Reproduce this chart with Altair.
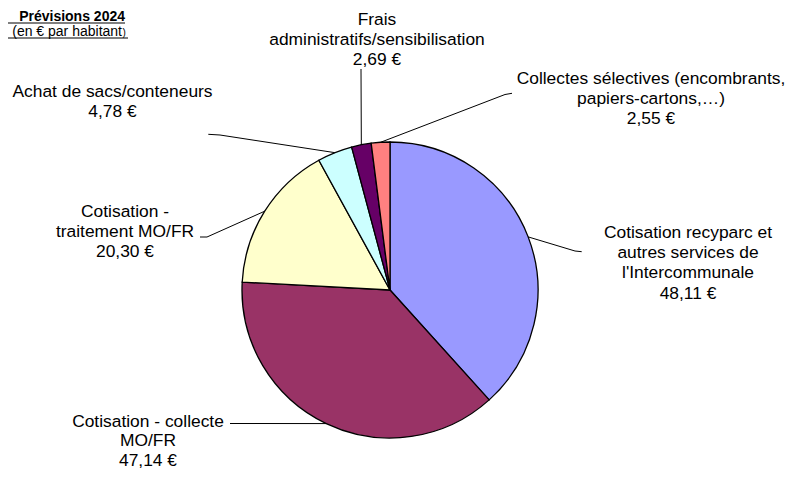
import math
import altair as alt
import pandas as pd

# ---- data ----
categories = [
    "Cotisation recyparc et autres services de l'Intercommunale",
    "Cotisation - collecte MO/FR",
    "Cotisation - traitement MO/FR",
    "Achat de sacs/conteneurs",
    "Frais administratifs/sensibilisation",
    "Collectes sélectives (encombrants, papiers-cartons,…)",
]
values = [48.11, 47.14, 20.30, 4.78, 2.69, 2.55]
label_lines = [
    ["Cotisation recyparc et", "autres services de", "l'Intercommunale"],
    ["Cotisation - collecte", "MO/FR"],
    ["Cotisation -", "traitement MO/FR"],
    ["Achat de sacs/conteneurs"],
    ["Frais", "administratifs/sensibilisation"],
    ["Collectes sélectives (encombrants,", "papiers-cartons,…)"],
]
colors = ["#9999FF", "#993366", "#FFFFCC", "#CCFFFF", "#660066", "#FF8080"]
title_text = "Prévisions 2024"
subtitle_text = "(en € par habitant"

# ---- layout ----
W, H = 779, 465
CX, CY, R = 382, 282, 148
FONT = "Liberation Sans"
FS = 17.4
# label block: center x, first line y, line spacing
label_pos = [(680, 225, 20.2), (140, 414, 19.3), (117, 204, 20),
             (104.5, 84, 19.5), (369, 11.5, 20.3), (643, 71, 20)]
# leader: label end point, elbow point
leader_pts = [((573.7, 243.7), (567, 243)),
              ((222, 415.5), (229, 415.5)),
              ((192, 229), (199, 229)),
              ((200.3, 126.3), (212, 127)),
              ((353, 61), (353, 61)),
              ((504, 85.3), (497, 86.5))]

pie_df = pd.DataFrame({"cat": categories, "val": values, "idx": list(range(len(values)))})

# label text rows
rows = []
for i, (lines, v) in enumerate(zip(label_lines, values)):
    txt = lines + [f"{v:.2f}".replace(".", ",") + " €"]
    x0, y0, sp = label_pos[i]
    for j, t in enumerate(txt):
        rows.append({"x": x0, "y": y0 + j * sp, "t": t})
lab_df = pd.DataFrame(rows)

# leader lines, arc end computed from data
total = sum(values)
cum = 0
lrows = []
for i, v in enumerate(values):
    mid = (cum + v / 2) / total * 2 * math.pi
    cum += v
    ax, ay = CX + R * math.sin(mid), CY - R * math.cos(mid)
    (lx, ly), (ex, ey) = leader_pts[i]
    for k, (px, py) in enumerate([(lx, ly), (ex, ey), (ax, ay)]):
        lrows.append({"id": i, "k": k, "x": px, "y": py})
lead_df = pd.DataFrame(lrows)

pie = alt.Chart(pie_df).mark_arc(outerRadius=R, stroke="black", strokeWidth=1.3).encode(
    theta=alt.Theta("val:Q", stack=True),
    color=alt.Color("cat:N", scale=alt.Scale(domain=categories, range=colors), legend=None),
    order=alt.Order("idx:Q"),
    x=alt.value(CX), y=alt.value(CY),
)

labels = alt.Chart(lab_df).mark_text(font=FONT, fontSize=FS, align="center",
                                      baseline="middle", color="black").encode(
    x=alt.X("x:Q", scale=None, axis=None),
    y=alt.Y("y:Q", scale=None, axis=None),
    text="t:N",
)

leaders = alt.Chart(lead_df).mark_line(color="black", strokeWidth=1).encode(
    x=alt.X("x:Q", scale=None, axis=None),
    y=alt.Y("y:Q", scale=None, axis=None),
    detail="id:N",
    order="k:Q",
)

tdf = pd.DataFrame([{"x": 117, "y": 13, "t": title_text}])
title = alt.Chart(tdf).mark_text(font=FONT, fontSize=14, fontWeight="bold", align="right",
                                  baseline="alphabetic", color="black").encode(
    x=alt.X("x:Q", scale=None, axis=None), y=alt.Y("y:Q", scale=None, axis=None), text="t:N")
sdf = pd.DataFrame([{"x": 114, "y": 27.5, "t": subtitle_text}])
subtitle = alt.Chart(sdf).mark_text(font=FONT, fontSize=14, align="right",
                                     baseline="alphabetic", color="black").encode(
    x=alt.X("x:Q", scale=None, axis=None), y=alt.Y("y:Q", scale=None, axis=None), text="t:N")
pdf = pd.DataFrame([{"x": 114.5, "y": 27.5, "t": ")"}])
paren = alt.Chart(pdf).mark_text(font=FONT, fontSize=10, align="left",
                                  baseline="alphabetic", color="black").encode(
    x=alt.X("x:Q", scale=None, axis=None), y=alt.Y("y:Q", scale=None, axis=None), text="t:N")
udf = pd.DataFrame([{"x": 0, "x2": 117, "y": 15}, {"x": 0, "x2": 120, "y": 30}])
under = alt.Chart(udf).mark_rule(color="black", strokeWidth=1.2).encode(
    x=alt.X("x:Q", scale=None, axis=None), x2="x2:Q",
    y=alt.Y("y:Q", scale=None, axis=None))

chart = alt.layer(pie, leaders, labels, title, subtitle, paren, under).properties(
    width=W, height=H, autosize=alt.AutoSizeParams(type="none"), padding=0
).configure_view(stroke=None)

chart.save("out.html", embed_options={"renderer": "svg", "actions": False})
